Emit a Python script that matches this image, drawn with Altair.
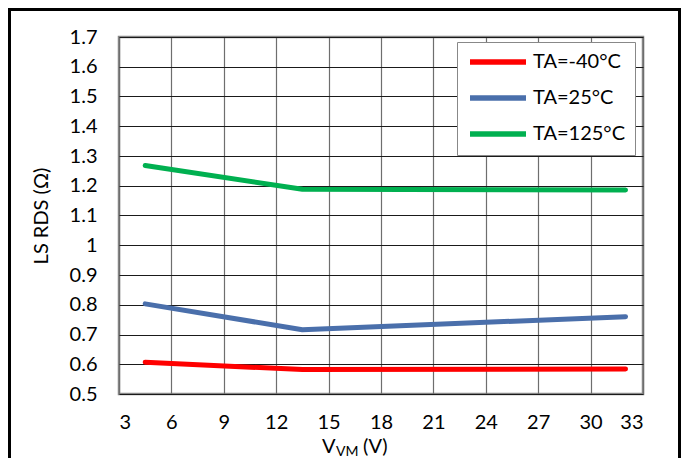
import altair as alt
import pandas as pd

# ---- data ----
vm = [4.5, 13.5, 32]
rds_m40 = [0.607, 0.582, 0.584]
rds_25 = [0.803, 0.716, 0.760]
rds_125 = [1.268, 1.188, 1.186]
series = ["TA=-40°C", "TA=25°C", "TA=125°C"]
colors = ["#FF0000", "#4A6FAB", "#00B050"]
x_ticks = [3, 6, 9, 12, 15, 18, 21, 24, 27, 30, 33]
y_ticks = [0.5, 0.6, 0.7, 0.8, 0.9, 1.0, 1.1, 1.2, 1.3, 1.4, 1.5, 1.6, 1.7]

rows = []
for name, vals in zip(series, [rds_m40, rds_25, rds_125]):
    for xv, yv in zip(vm, vals):
        rows.append({"series": name, "vm": xv, "rds": yv})
df = pd.DataFrame(rows)

FONT = "Lato"
FS = 20
W, H = 524, 357

lines = alt.Chart(df).mark_line(strokeWidth=5, strokeCap="round", strokeJoin="round").encode(
    x=alt.X("vm:Q", scale=alt.Scale(domain=[3, 33], nice=False, zero=False),
            axis=alt.Axis(values=x_ticks, title=None, labelFontSize=FS, labelPadding=18,
                          ticks=False, domain=False, gridColor="#6e6e6e", gridWidth=1.2,
                          labelColor="#000000", labelFont=FONT)),
    y=alt.Y("rds:Q", scale=alt.Scale(domain=[0.5, 1.7], nice=False, zero=False),
            axis=alt.Axis(values=y_ticks, format=".1~f", title="LS RDS (Ω)", labelFontSize=FS,
                          labelPadding=22, ticks=False, domain=False, gridColor="#1a1a1a",
                          gridWidth=1.1, labelColor="#000000", labelFont=FONT,
                          titleFont=FONT, titleFontSize=FS, titleFontWeight="normal",
                          titleColor="#000000", titlePadding=18)),
    color=alt.Color("series:N", sort=series,
                    scale=alt.Scale(domain=series, range=colors),
                    legend=alt.Legend(title=None, orient="none", legendX=338, legendY=5,
                                      symbolType="M-1,0L7,0", symbolStrokeWidth=5.5,
                                      symbolSize=196, labelFontSize=FS, labelFont=FONT,
                                      labelColor="#000000", labelOffset=46,
                                      padding=10, rowPadding=14,
                                      strokeColor="#888888", fillColor="#FFFFFF")),
)

dummy = pd.DataFrame({"t": [0]})
t_main = alt.Chart(dummy).mark_text(text="V", font=FONT, fontSize=FS, align="left",
                                    baseline="alphabetic", color="#000000").encode(
    x=alt.value(203), y=alt.value(416))
t_sub = alt.Chart(dummy).mark_text(text="VM", font=FONT, fontSize=14, align="left",
                                   baseline="alphabetic", color="#000000").encode(
    x=alt.value(217), y=alt.value(419))
t_unit = alt.Chart(dummy).mark_text(text="(V)", font=FONT, fontSize=FS, align="left",
                                    baseline="alphabetic", color="#000000").encode(
    x=alt.value(244), y=alt.value(416))
border = alt.Chart(dummy).mark_rect(fill=None, stroke="#000000", strokeWidth=3).encode(
    x=alt.value(-109.5), x2=alt.value(560.5), y=alt.value(-27.5), y2=alt.value(480))

chart = alt.layer(border, lines, t_main, t_sub, t_unit).properties(
    width=W, height=H,
    autosize=alt.AutoSizeParams(type="none"),
    padding={"left": 111, "top": 29, "right": 38, "bottom": 64},
    background="#FFFFFF",
).configure_view(stroke="#888888", strokeWidth=2.5)

chart.save("out.html", embed_options={"renderer": "svg", "actions": False})
